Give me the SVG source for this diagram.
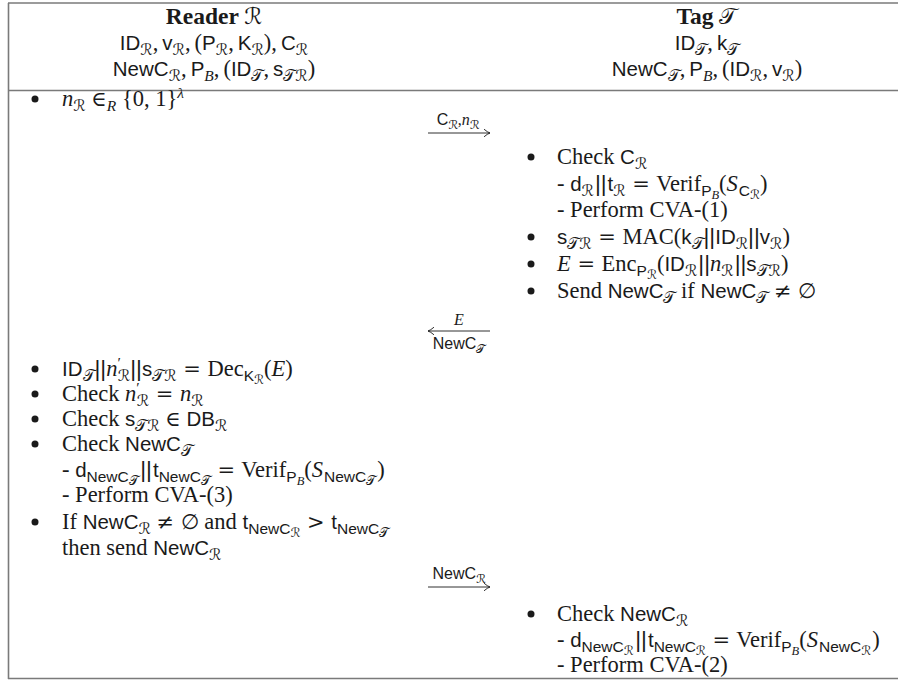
<svg xmlns="http://www.w3.org/2000/svg" width="898" height="680" viewBox="0 0 898 680">
  <defs>
    <style>
      .t { font-family: "Liberation Serif", "DejaVu Serif", serif; font-size: 22.5px; fill: #1a1a1a; }
      .lab { font-family: "Liberation Serif", "DejaVu Serif", serif; font-size: 16px; fill: #1a1a1a; }
      .b { font-weight: bold; font-size: 23.5px; }
      .i { font-style: italic; }
      .sf { font-family: "Liberation Sans", "DejaVu Sans", sans-serif; font-size: 20.5px; }
      .f { font-family: "Liberation Sans", "DejaVu Sans", sans-serif; }
      .bar { font-family: "Liberation Sans", "DejaVu Sans", sans-serif; }
      .rel { font-family: "DejaVu Serif", serif; font-size: 21px; }
      .cal { font-family: "DejaVu Serif", "DejaVu Sans", serif; font-style: normal; font-weight: normal; }
      .s { font-size: 15.5px; baseline-shift: -5px; }
      .ss { font-size: 12.5px; baseline-shift: -3px; }
      .lab .s { font-size: 12px; baseline-shift: -4px; }
      .sup { font-size: 15.5px; baseline-shift: 8px; }
      .rule { stroke: #7a7a7a; stroke-width: 1.6; fill: none; }
      .msg { stroke: #1a1a1a; stroke-width: 0.9; fill: none; marker-end: url(#tip); }
      .dot { fill: #1a1a1a; }
    </style>
    <marker id="tip" viewBox="-7 -5 8 10" markerWidth="8" markerHeight="10" refX="0" refY="0" orient="auto" markerUnits="userSpaceOnUse">
      <path d="M-6,-3.8 Q-2.5,-0.8 0,0 Q-2.5,0.8 -6,3.8" fill="none" stroke="#1a1a1a" stroke-width="0.9"/>
    </marker>
  </defs>

  <!-- table rules -->
  <g id="frame">
    <line class="rule" x1="8" y1="3" x2="898" y2="3"/>
    <line class="rule" x1="8" y1="90.5" x2="898" y2="90.5"/>
    <line class="rule" x1="8" y1="678.5" x2="898" y2="678.5"/>
    <line class="rule" x1="8.5" y1="3" x2="8.5" y2="679"/>
  </g>

  <!-- reader column header -->
  <g id="reader-header">
    <text class="t" x="214" y="24" text-anchor="middle"><tspan class="b">Reader </tspan><tspan class="cal">ℛ</tspan></text>
    <text class="t" x="214" y="50" text-anchor="middle"><tspan class="sf">ID</tspan><tspan class="s cal">ℛ</tspan>,<tspan class="sf" dx="4">v</tspan><tspan class="s cal">ℛ</tspan>,<tspan dx="4">(</tspan><tspan class="sf">P</tspan><tspan class="s cal">ℛ</tspan>,<tspan class="sf" dx="4">K</tspan><tspan class="s cal">ℛ</tspan>),<tspan class="sf" dx="4">C</tspan><tspan class="s cal">ℛ</tspan></text>
    <text class="t" x="214" y="76" text-anchor="middle"><tspan class="sf">NewC</tspan><tspan class="s cal">ℛ</tspan>,<tspan class="sf" dx="4">P</tspan><tspan class="s i">B</tspan>,<tspan dx="4">(</tspan><tspan class="sf">ID</tspan><tspan class="s cal">𝒯</tspan>,<tspan class="sf" dx="4">s</tspan><tspan class="s cal">𝒯ℛ</tspan>)</text>
  </g>

  <!-- tag column header -->
  <g id="tag-header">
    <text class="t" x="707" y="24" text-anchor="middle"><tspan class="b">Tag </tspan><tspan class="cal">𝒯</tspan></text>
    <text class="t" x="707" y="50" text-anchor="middle"><tspan class="sf">ID</tspan><tspan class="s cal">𝒯</tspan>,<tspan class="sf" dx="4">k</tspan><tspan class="s cal">𝒯</tspan></text>
    <text class="t" x="707" y="76" text-anchor="middle"><tspan class="sf">NewC</tspan><tspan class="s cal">𝒯</tspan>,<tspan class="sf" dx="4">P</tspan><tspan class="s i">B</tspan>,<tspan dx="4">(</tspan><tspan class="sf">ID</tspan><tspan class="s cal">ℛ</tspan>,<tspan class="sf" dx="4">v</tspan><tspan class="s cal">ℛ</tspan>)</text>
  </g>

  <!-- reader: nonce generation -->
  <g id="reader-nonce">
    <circle class="dot" cx="35" cy="99" r="3.5"/>
    <text class="t" x="62" y="106"><tspan class="i">n</tspan><tspan class="s cal">ℛ</tspan> <tspan class="rel">∈</tspan><tspan class="s i">R</tspan> {0, 1}<tspan class="sup i">λ</tspan></text>
  </g>

  <!-- tag: certificate check and response -->
  <g id="tag-response">
    <circle class="dot" cx="531" cy="157" r="3.5"/>
    <text class="t" x="557" y="164">Check <tspan class="sf">C</tspan><tspan class="s cal">ℛ</tspan></text>
    <text class="t" x="557" y="191">- <tspan class="sf">d</tspan><tspan class="s cal">ℛ</tspan><tspan class="bar" dx="1">||</tspan><tspan class="sf" dx="1">t</tspan><tspan class="s cal">ℛ</tspan> <tspan class="rel" dx="1">=</tspan> <tspan dx="1">Verif</tspan><tspan class="s"><tspan class="f">P</tspan><tspan class="ss i">B</tspan></tspan>(<tspan class="i">S</tspan><tspan class="s" dx="1"><tspan class="f">C</tspan><tspan class="ss cal">ℛ</tspan></tspan>)</text>
    <text class="t" x="557" y="217">- Perform CVA-(1)</text>
    <circle class="dot" cx="531" cy="237" r="3.5"/>
    <text class="t" x="557" y="244"><tspan class="sf">s</tspan><tspan class="s cal">𝒯ℛ</tspan> <tspan class="rel" dx="1">=</tspan> <tspan dx="1">MAC(</tspan><tspan class="sf">k</tspan><tspan class="s cal">𝒯</tspan><tspan class="bar">||</tspan><tspan class="sf">ID</tspan><tspan class="s cal">ℛ</tspan><tspan class="bar">||</tspan><tspan class="sf">v</tspan><tspan class="s cal">ℛ</tspan>)</text>
    <circle class="dot" cx="531" cy="264" r="3.5"/>
    <text class="t" x="557" y="271"><tspan class="i">E</tspan> <tspan class="rel" dx="1">=</tspan> <tspan dx="1">Enc</tspan><tspan class="s"><tspan class="f">P</tspan><tspan class="ss cal">ℛ</tspan></tspan>(<tspan class="sf">ID</tspan><tspan class="s cal">ℛ</tspan><tspan class="bar" dx="1">||</tspan><tspan class="i">n</tspan><tspan class="s cal">ℛ</tspan><tspan class="bar" dx="1">||</tspan><tspan class="sf">s</tspan><tspan class="s cal">𝒯ℛ</tspan>)</text>
    <circle class="dot" cx="531" cy="291" r="3.5"/>
    <text class="t" x="557" y="298">Send <tspan class="sf">NewC</tspan><tspan class="s cal">𝒯</tspan> if <tspan class="sf">NewC</tspan><tspan class="s cal">𝒯</tspan> <tspan class="rel">≠ ∅</tspan></text>
  </g>

  <!-- reader: decryption and checks -->
  <g id="reader-verify">
    <circle class="dot" cx="35" cy="369" r="3.5"/>
    <text class="t" x="62" y="376"><tspan class="sf">ID</tspan><tspan class="s cal">𝒯</tspan><tspan class="bar">||</tspan><tspan class="i">n</tspan><tspan class="sup">′</tspan><tspan class="s cal" dx="-3">ℛ</tspan><tspan class="bar">||</tspan><tspan class="sf">s</tspan><tspan class="s cal">𝒯ℛ</tspan> <tspan class="rel" dx="1">=</tspan> <tspan dx="1">Dec</tspan><tspan class="s"><tspan class="f">K</tspan><tspan class="ss cal">ℛ</tspan></tspan>(<tspan class="i">E</tspan>)</text>
    <circle class="dot" cx="35" cy="394" r="3.5"/>
    <text class="t" x="62" y="401">Check <tspan class="i">n</tspan><tspan class="sup">′</tspan><tspan class="s cal" dx="-3">ℛ</tspan> <tspan class="rel" dx="1">=</tspan> <tspan class="i" dx="1">n</tspan><tspan class="s cal">ℛ</tspan></text>
    <circle class="dot" cx="35" cy="419" r="3.5"/>
    <text class="t" x="62" y="426">Check <tspan class="sf">s</tspan><tspan class="s cal">𝒯ℛ</tspan> <tspan class="rel">∈</tspan> <tspan class="sf">DB</tspan><tspan class="s cal">ℛ</tspan></text>
    <circle class="dot" cx="35" cy="444" r="3.5"/>
    <text class="t" x="62" y="451">Check <tspan class="sf">NewC</tspan><tspan class="s cal">𝒯</tspan></text>
    <text class="t" x="62" y="477">- <tspan class="sf">d</tspan><tspan class="s"><tspan class="f">NewC</tspan><tspan class="ss cal">𝒯</tspan></tspan><tspan class="bar" dx="1.5">||</tspan><tspan class="sf" dx="1">t</tspan><tspan class="s"><tspan class="f">NewC</tspan><tspan class="ss cal">𝒯</tspan></tspan> <tspan class="rel" dx="1">=</tspan> <tspan dx="1">Verif</tspan><tspan class="s"><tspan class="f">P</tspan><tspan class="ss i">B</tspan></tspan>(<tspan class="i">S</tspan><tspan class="s" dx="1"><tspan class="f">NewC</tspan><tspan class="ss cal">𝒯</tspan></tspan><tspan dx="1">)</tspan></text>
    <text class="t" x="62" y="502">- Perform CVA-(3)</text>
    <circle class="dot" cx="35" cy="522" r="3.5"/>
    <text class="t" x="62" y="529">If <tspan class="sf">NewC</tspan><tspan class="s cal">ℛ</tspan> <tspan class="rel">≠ ∅</tspan> and <tspan class="sf">t</tspan><tspan class="s"><tspan class="f">NewC</tspan><tspan class="ss cal">ℛ</tspan></tspan> <tspan class="rel" dx="1">&gt;</tspan> <tspan class="sf" dx="1">t</tspan><tspan class="s"><tspan class="f">NewC</tspan><tspan class="ss cal">𝒯</tspan></tspan></text>
    <text class="t" x="62" y="555">then send <tspan class="sf">NewC</tspan><tspan class="s cal">ℛ</tspan></text>
  </g>

  <!-- tag: new certificate check -->
  <g id="tag-newcert">
    <circle class="dot" cx="531" cy="614" r="3.5"/>
    <text class="t" x="557" y="621">Check <tspan class="sf">NewC</tspan><tspan class="s cal">ℛ</tspan></text>
    <text class="t" x="557" y="647">- <tspan class="sf">d</tspan><tspan class="s"><tspan class="f">NewC</tspan><tspan class="ss cal">ℛ</tspan></tspan><tspan class="bar" dx="1.5">||</tspan><tspan class="sf" dx="1">t</tspan><tspan class="s"><tspan class="f">NewC</tspan><tspan class="ss cal">ℛ</tspan></tspan> <tspan class="rel" dx="1">=</tspan> <tspan dx="1">Verif</tspan><tspan class="s"><tspan class="f">P</tspan><tspan class="ss i">B</tspan></tspan>(<tspan class="i">S</tspan><tspan class="s" dx="1"><tspan class="f">NewC</tspan><tspan class="ss cal">ℛ</tspan></tspan><tspan dx="1">)</tspan></text>
    <text class="t" x="557" y="672">- Perform CVA-(2)</text>
  </g>

  <!-- messages exchanged between reader and tag -->
  <g id="messages">
    <line class="msg" x1="428" y1="133" x2="490" y2="133"/>
    <text class="lab" x="458" y="125" text-anchor="middle"><tspan class="f">C</tspan><tspan class="s cal">ℛ</tspan>,<tspan class="i">n</tspan><tspan class="s cal">ℛ</tspan></text>

    <line class="msg" x1="490" y1="331" x2="428" y2="331"/>
    <text class="lab i" x="459" y="325" text-anchor="middle">E</text>
    <text class="lab" x="459" y="349" text-anchor="middle"><tspan class="f">NewC</tspan><tspan class="s cal">𝒯</tspan></text>

    <line class="msg" x1="428" y1="587" x2="490" y2="587"/>
    <text class="lab" x="459" y="579" text-anchor="middle"><tspan class="f">NewC</tspan><tspan class="s cal">ℛ</tspan></text>
  </g>
</svg>
